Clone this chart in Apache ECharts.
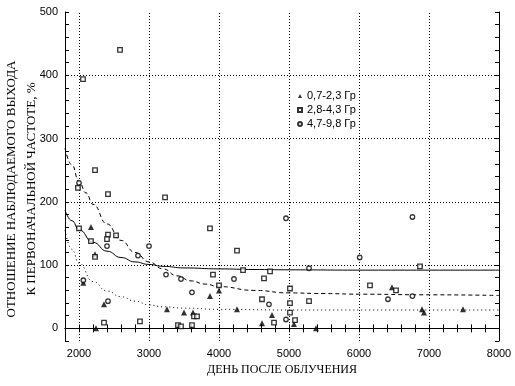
<!DOCTYPE html>
<html><head><meta charset="utf-8">
<script src="https://cdn.jsdelivr.net/npm/echarts@6/dist/echarts.min.js"></script>
<style>html,body{margin:0;padding:0;background:#fff}#c{width:515px;height:386px}</style>
</head><body><div id="c"></div>
<script>
// Data
const seriesNames = ['0,7-2,3 Гр', '2,8-4,3 Гр', '4,7-9,8 Гр'];
const triangles = [[2171,160],[2229,117],[2062,72],[4000,60],[3871,51],[2357,38],[3257,30],[4257,30],[3500,25],[3629,25],[4757,21],[4614,8],[2243,0],[6471,65],[6900,30],[6929,25],[7486,30],[5071,7],[5386,0]];
const squares = [[2057,394],[2586,440],[2229,250],[1985,222],[2414,212],[3229,207],[2000,158],[3871,158],[2414,148],[2529,147],[2400,141],[2171,138],[4257,123],[2229,113],[4343,92],[4729,90],[3914,85],[4643,79],[4000,68],[4614,46],[3643,19],[3686,19],[2357,9],[2871,11],[4786,9],[3414,5],[3457,3],[3614,5],[6871,98],[6157,68],[6529,60],[5014,63],[5286,43],[5014,40],[5014,25],[5086,13]];
const circles = [[2000,230],[2400,130],[3000,130],[2843,115],[3243,85],[3457,78],[4214,78],[2062,76],[3614,57],[2414,43],[4714,38],[4957,174],[6763,176],[6010,112],[5286,95],[6414,46],[6763,51],[4957,14]];
const curveSolid = [[1800,187],[1900,170],[2000,156],[2200,136],[2400,122],[2600,112],[2800,105],[3000,101],[3200,98],[3500,95.5],[4000,94],[4500,93],[5000,92.5],[6000,92],[8000,92]];
const curveDashed = [[1800,285],[1900,258],[2000,232],[2100,214],[2200,196],[2400,165],[2600,139],[2800,120],[3000,105],[3200,94],[3400,83],[3600,75],[3800,70],[4000,66],[4500,60],[5000,56],[5500,55],[6000,54],[7000,53],[8000,52]];
const curveDotted = [[1800,155],[1900,125],[2000,103],[2200,74],[2400,59],[2600,50],[2800,43],[3000,37],[3200,34],[3500,32],[4000,30],[5000,29],[8000,29]];
const xGridValues = [2000,3000,4000,5000,6000,7000];
const yGridValues = [0,100,200,300,400];
const xTitle = 'ДЕНЬ ПОСЛЕ ОБЛУЧЕНИЯ';
const yTitle1 = 'ОТНОШЕНИЕ НАБЛЮДАЕМОГО ВЫХОДА';
const yTitle2 = 'К ПЕРВОНАЧАЛЬНОЙ ЧАСТОТЕ, %';

const chart = echarts.init(document.getElementById('c'), null, {renderer: 'canvas'});
const sans = 'Liberation Sans, Arial, sans-serif';
const serif = 'Liberation Serif, Times New Roman, serif';
const axLine = {show: true, lineStyle: {color: '#000', width: 1}};
const tick = {show: true, inside: true, length: 4, lineStyle: {color: '#000', width: 1}};
function xAx(pos, labels) {
  return {type: 'value', position: pos, min: 1800, max: 8000, interval: 200,
    axisLine: axLine, axisTick: tick, splitLine: {show: false},
    axisLabel: {show: labels, margin: 7, color: '#000', fontFamily: sans, fontSize: 11,
      formatter: v => (v % 1000 === 0 ? String(v) : '')}};
}
function yAx(pos, labels) {
  return {type: 'value', position: pos, min: -20, max: 500, interval: 20,
    axisLine: axLine, axisTick: tick, splitLine: {show: false},
    axisLabel: {show: labels, margin: 7, color: '#000', fontFamily: sans, fontSize: 11,
      formatter: v => (v % 100 === 0 && v >= 0 ? String(v) : '')}};
}
const gridLine = {color: '#000', width: 1, type: [1, 2]};
chart.setOption({
  animation: false,
  backgroundColor: '#fff',
  grid: {left: 65, right: 16, top: 12, bottom: 45, containLabel: false},
  xAxis: [xAx('bottom', true), xAx('top', false)],
  yAxis: [yAx('left', true), yAx('right', false)],
  legend: {
    data: seriesNames, orient: 'vertical', left: 292, top: 85,
    itemWidth: 4, itemHeight: 4, itemGap: 2, selectedMode: false,
    textStyle: {fontFamily: sans, fontSize: 11, color: '#000', lineHeight: 12}
  },
  graphic: [
    {type: 'text', x: 282, y: 370, style: {text: xTitle, font: '12px ' + serif, fill: '#000', align: 'center', verticalAlign: 'middle'}},
    {type: 'text', x: 12, y: 189, rotation: Math.PI / 2, style: {text: yTitle1, font: '13px ' + serif, fill: '#000', align: 'center', verticalAlign: 'middle'}},
    {type: 'text', x: 32, y: 189, rotation: Math.PI / 2, style: {text: yTitle2, font: '13px ' + serif, fill: '#000', align: 'center', verticalAlign: 'middle'}}
  ],
  series: [
    {type: 'line', name: 'solid', data: curveSolid, symbol: 'none', smooth: true, smoothMonotone: 'x',
      lineStyle: {color: '#000', width: 1}, z: 3,
      markLine: {silent: true, symbol: 'none', label: {show: false}, lineStyle: gridLine,
        data: xGridValues.map(v => ({xAxis: v})).concat(yGridValues.map(v => ({yAxis: v})))}},
    {type: 'line', name: 'dashed', data: curveDashed, symbol: 'none', smooth: true, smoothMonotone: 'x',
      lineStyle: {color: '#000', width: 1, type: [4, 3]}, z: 3},
    {type: 'line', name: 'dotted', data: curveDotted, symbol: 'none', smooth: true, smoothMonotone: 'x',
      lineStyle: {color: '#000', width: 1, type: [1, 3]}, z: 3},
    {type: 'scatter', name: seriesNames[0], data: triangles, symbol: 'triangle', symbolSize: 6,
      itemStyle: {color: '#000'}, z: 5},
    {type: 'scatter', name: seriesNames[1], data: squares, symbol: 'rect', symbolSize: 4.5,
      itemStyle: {color: '#fff', borderColor: '#000', borderWidth: 1.3}, z: 5},
    {type: 'scatter', name: seriesNames[2], data: circles, symbol: 'circle', symbolSize: 4.5,
      itemStyle: {color: '#fff', borderColor: '#000', borderWidth: 1.3}, z: 5}
  ]
});
</script></body></html>
